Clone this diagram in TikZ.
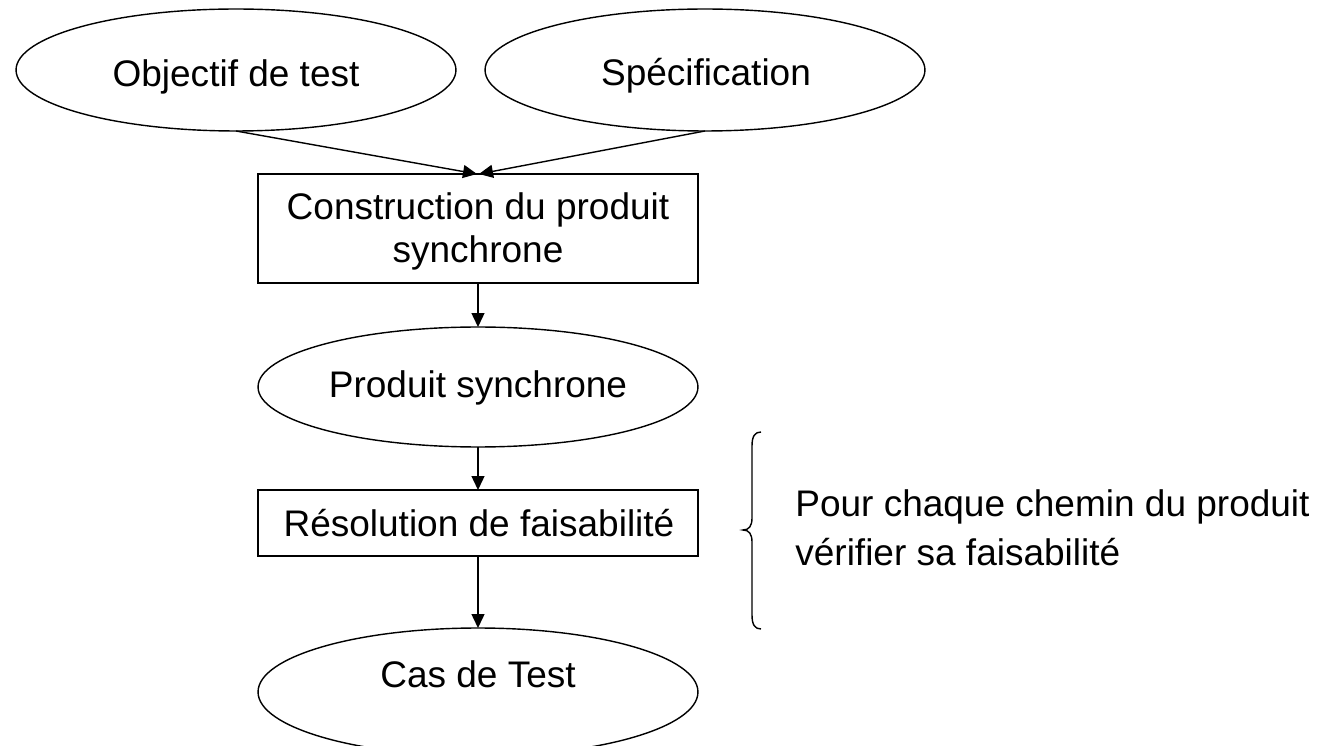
\documentclass[tikz,border=0pt]{standalone}
\usepackage{fontspec}
\setmainfont{Liberation Sans}
\usetikzlibrary{arrows.meta,shapes.geometric}
\tikzset{
  lbl/.style={anchor=base,inner sep=0pt,font=\fontsize{21.06pt}{25pt}\selectfont},
  oval/.style={draw,ellipse,line width=0.8pt,minimum width=8.8cm,inner sep=0pt,outer sep=0pt},
  box/.style={draw,rectangle,line width=0.8pt,minimum width=8.8cm,inner sep=0pt,outer sep=0pt},
  arr/.style={line width=0.8pt,-{Triangle[length=0.28cm,width=0.26cm]}},
  brace/.style={line width=0.8pt}
}
\begin{document}
\begin{tikzpicture}[x=0.02cm,y=-0.02cm]
\useasboundingbox (0,0) rectangle (1326,746);
% shapes
\node[oval,minimum height=2.44cm] (e1) at (236,70) {};
\node[oval,minimum height=2.44cm] (e2) at (705,70) {};
\node[box,minimum height=2.18cm] (r1) at (478,228.5) {};
\node[oval,minimum height=2.4cm] (e3) at (478,387) {};
\node[box,minimum height=1.32cm] (r2) at (478,523) {};
\node[oval,minimum height=2.56cm] (e4) at (478,692) {};
% texts
\node[lbl] (t1) at (236,87) {Objectif de test};
\node[lbl] (t2) at (706,86) {Spécification};
\node[lbl] (t3a) at (478,220) {Construction du produit};
\node[lbl] (t3b) at (478,263) {synchrone};
\node[lbl] (t4) at (478,398) {Produit synchrone};
\node[lbl] (t5) at (479,537) {Résolution de faisabilité};
\node[lbl] (t6) at (478,687) {Cas de Test};
\node[lbl,anchor=base west] (n1) at (795,517) {Pour chaque chemin du produit};
\node[lbl,anchor=base west] (n2) at (795,565) {vérifier sa faisabilité};
% connectors
\draw[arr] (e1.south) -- ([xshift=-0.02cm]r1.north);
\draw[arr] (e2.south) -- ([xshift=0.02cm]r1.north);
\draw[arr] (r1.south) -- (e3.north);
\draw[arr] (e3.south) -- (r2.north);
\draw[arr] (r2.south) -- (e4.north);
% brace
\draw[brace] (761,432) .. controls (755,432) and (752,436) .. (752,446)
  -- (752,518) .. controls (752,526) and (749,530) .. (743,530)
  .. controls (749,530) and (752,534) .. (752,542)
  -- (752,615) .. controls (752,625) and (755,629) .. (761,629);
\end{tikzpicture}
\end{document}
